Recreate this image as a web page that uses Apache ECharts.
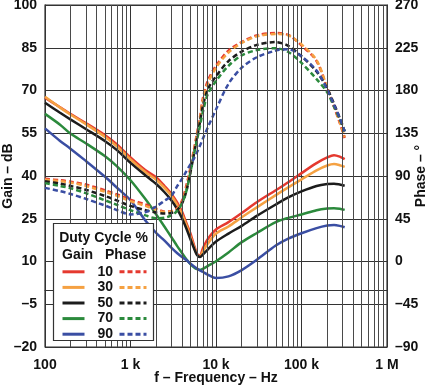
<!DOCTYPE html>
<html><head><meta charset="utf-8">
<script src="https://cdn.jsdelivr.net/npm/echarts@6/dist/echarts.min.js"></script>
<style>html,body{margin:0;padding:0;background:#fff}#c{width:428px;height:387px}</style>
</head><body><div id="c"></div>
<script>
const freq = [100,150,200,300,500,700,1000,1500,2000,2500,3000,3500,4000,4500,5000,5500,6000,6500,7000,8000,10000,14000,20000,30000,50000,70000,100000,150000,200000,240000,280000,320000];
const dutyCycles = ['10','30','50','70','90'];
const gain10 = [67.5,64.1,61.7,58.6,54.4,51,46.5,42,39.5,36.5,33.8,30.8,27.5,23.5,20,16,12.8,12,14.5,17.8,21.2,23.8,27,30.8,35,37.8,41,44.5,46.5,47.3,46.8,45.9];
const gain30 = [67.8,64,61.5,58.2,53.8,50.3,45.8,41.3,38.7,35.8,33.1,30,26.6,22.8,19,15.3,12.4,11.7,13.5,16.2,19.8,22.3,25.5,29,33.3,36,38.8,42,43.7,44.2,43.8,43.2];
const gain50 = [65.7,62.2,59.8,56.5,52.3,49,44.6,40.2,37.2,34.3,31.5,28.5,25.2,21.6,18,14.8,12.3,11.6,12.4,14.2,17,19.8,22.5,26,30,32.5,34.6,36.5,37.2,37.3,37,36.6];
const gain70 = [61.8,58,54.8,51.5,47,43.3,38.5,31.8,26.5,22.2,18.6,15.5,13,10.8,9.2,8,7.3,7,7.4,8.4,10.1,13.2,16.8,20,23.8,25.3,26.5,28,28.6,28.7,28.5,28.1];
const gain90 = [56.7,52.3,49.5,45.3,39.8,35.8,31.5,24.3,20,17.3,14.9,13,11.6,10.5,9.3,8.3,7.5,6.9,6.4,5.4,4.2,4.8,7,10.6,15.6,18,19.9,21.7,22.6,22.8,22.5,22];
const phase10 = [87,85.5,84,81,75,70.5,65,60,55.5,52.5,53,56,64,80,98,117,135,152,171,190,206,222,231,238,240.5,238.5,227.5,211,182,163,146,130];
const phase30 = [86,84.5,83,79.5,73.5,69,63.5,58.5,54.5,52,52.5,55,62,77,95,115,133,150,168,187,204,220,230,237,239.5,238,228.5,212,183,164,147,131];
const phase50 = [84.5,82,79.5,75.5,69,64,58.5,54,51.5,50.5,51,54,61,74,93,112,130,147,163,181,195,211,221,228,231,227,216,200,182,166,151,137];
const phase70 = [82.5,79.5,77,72,64.5,59.5,54,48.5,45.5,46,48.5,53,61,74,93,112,128,143,157,176,190,206,217,222.5,224.5,220.5,209,192,178,163,150,137];
const phase90 = [77.5,74,71,66,59,54,49.5,52,58,64,69,79,87,95,102,108,115,122,129,141,160,187,204,215,222,223.5,216,201,181,165,151,137];
const xTickLabels = ['100','1 k','10 k','100 k','1 M'];
const gainTicks = [-20,-5,10,25,40,55,70,85,100];
const phaseTicks = [-90,-45,0,45,90,135,180,225,270];

const colors = ['#e5392f','#f5a142','#1c1c1c','#2b8a3c','#3a4ea3'];
const gains = [gain10,gain30,gain50,gain70,gain90];
const phases = [phase10,phase30,phase50,phase70,phase90];
const pair = arr => freq.map((f,i)=>[f,arr[i]]);
const dashFmt = v => String(v).replace('-', '–');

const minorLines = [];
for (let d = 100; d < 1e6; d *= 10) for (let k = 2; k <= 9; k++) minorLines.push({xAxis: d*k});

const series = [{
  type:'line', data:[], z:1, silent:true, showSymbol:false,
  markLine:{silent:true, symbol:'none', label:{show:false}, animation:false,
    lineStyle:{color:'#4a4a4a', width:1, type:'solid'}, data:minorLines}
}];
dutyCycles.forEach((d,i)=>{
  series.push({name:d, type:'line', xAxisIndex:0, yAxisIndex:0, data:pair(gains[i]), smooth:0.3,
    symbol:'none', z:3, lineStyle:{color:colors[i], width:2.5}, itemStyle:{color:colors[i]}});
});
dutyCycles.forEach((d,i)=>{
  series.push({name:d+' phase', type:'line', xAxisIndex:0, yAxisIndex:1, data:pair(phases[i]), smooth:0.3,
    symbol:'none', z:3, lineStyle:{color:colors[i], width:2.5, type:[5,3]}, itemStyle:{color:colors[i]}});
});

const ff = 'Liberation Sans, Arial, sans-serif';
const font = {fontFamily:ff, fontWeight:'bold', fontSize:14, color:'#111'};
const gfont = 'bold 14px "Liberation Sans", Arial, sans-serif';
const chart = echarts.init(document.getElementById('c'), null, {renderer:'canvas'});
chart.setOption({
  animation:false,
  backgroundColor:'#fff',
  grid:{left:45, right:41, top:5, bottom:40, outerBoundsMode:'none', containLabel:false,
    show:true, borderColor:'#333', borderWidth:1.2, backgroundColor:'transparent'},
  xAxis:{type:'log', logBase:10, min:100, max:1e6,
    name:'f – Frequency – Hz', nameLocation:'middle', nameGap:24, nameMoveOverlap:false, nameTextStyle:font,
    axisLine:{show:true, lineStyle:{color:'#333'}}, axisTick:{show:false},
    axisLabel:Object.assign({margin:11, formatter:v=>xTickLabels[Math.round(Math.log10(v))-2]}, font),
    splitLine:{show:true, lineStyle:{color:'#333', width:1}}},
  yAxis:[
    {type:'value', min:gainTicks[0], max:gainTicks[gainTicks.length-1], interval:15,
      name:'Gain – dB', nameLocation:'middle', nameGap:30, nameRotate:90, nameMoveOverlap:false, nameTextStyle:font,
      axisLine:{show:true, lineStyle:{color:'#333'}}, axisTick:{show:false},
      axisLabel:Object.assign({margin:8, formatter:dashFmt}, font),
      splitLine:{show:true, lineStyle:{color:'#333', width:1}}},
    {type:'value', min:phaseTicks[0], max:phaseTicks[phaseTicks.length-1], interval:45, position:'right',
      name:'Phase – °', nameLocation:'middle', nameGap:27, nameRotate:90, nameMoveOverlap:false, nameTextStyle:font,
      axisLine:{show:true, lineStyle:{color:'#333'}}, axisTick:{show:false},
      axisLabel:Object.assign({margin:8, formatter:dashFmt}, font),
      splitLine:{show:false}}
  ],
  legend:[
    {data:dutyCycles, left:61, top:264, padding:0, orient:'vertical', itemWidth:22, itemHeight:12, itemGap:0,
      selectedMode:false, z:10, itemStyle:{opacity:0}, lineStyle:{width:3},
      textStyle:Object.assign({padding:[0,0,0,8], lineHeight:15.6}, font)},
    {data:dutyCycles.map(d=>d+' phase'), left:118, top:264, padding:0, orient:'vertical', itemWidth:27, itemHeight:12, itemGap:0,
      selectedMode:false, z:10, itemStyle:{opacity:0}, lineStyle:{width:3}, formatter:()=>' ',
      textStyle:Object.assign({lineHeight:15.6}, font)}
  ],
  graphic:[
    {type:'rect', z:6, shape:{x:53.5, y:223.5, width:100, height:117}, style:{fill:'#fff', stroke:'#333', lineWidth:1.2}},
    {type:'text', z:7, x:103.5, y:238, style:{text:'Duty Cycle %', align:'center', verticalAlign:'middle', font:gfont, fill:'#111'}},
    {type:'text', z:7, x:62, y:255, style:{text:'Gain', align:'left', verticalAlign:'middle', font:gfont, fill:'#111'}},
    {type:'text', z:7, x:105, y:255, style:{text:'Phase', align:'left', verticalAlign:'middle', font:gfont, fill:'#111'}}
  ],
  series:series
});
</script></body></html>
